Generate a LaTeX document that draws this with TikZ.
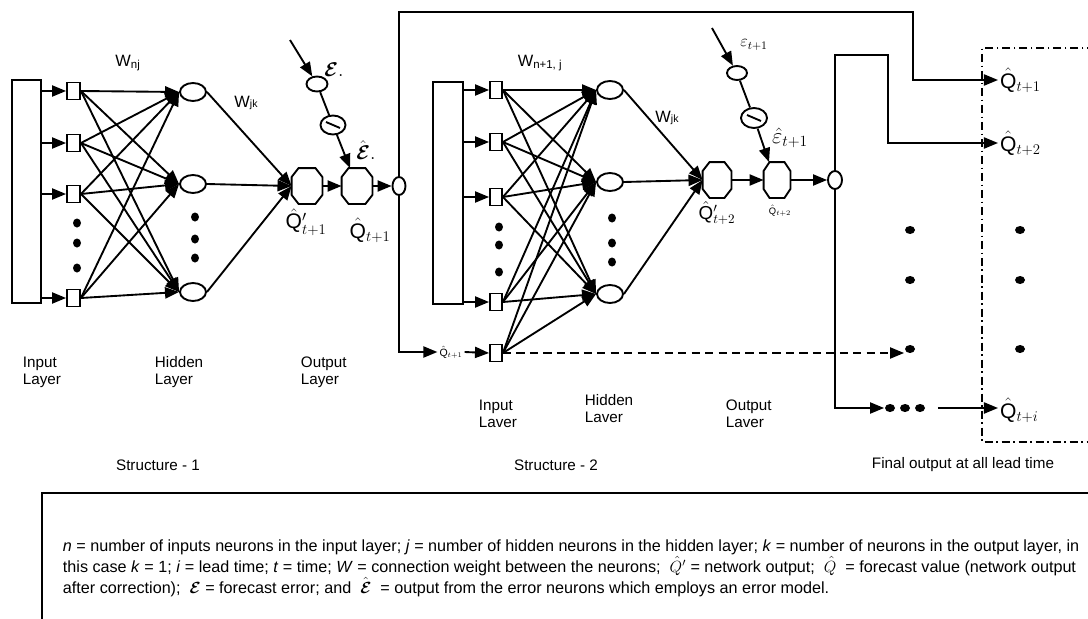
\RequirePackage{fix-cm}
\documentclass[tikz,border=0pt]{standalone}
\usepackage{fontspec}
\setmainfont{Liberation Sans}
\usepackage{amsmath}
\usepackage{bm}
\usetikzlibrary{arrows.meta,shapes.geometric,calc}

% one drawing unit in absolute length
\newcommand{\pu}{0.03cm}
% octagonal output neuron drawn over a named invisible box
\newcommand{\octo}[3]{%
  \draw ($(#1.north west)+(#2,0)$) -- ($(#1.north east)+(-#2,0)$)
     -- ($(#1.north east)+(0,#3)$) -- ($(#1.south east)+(0,-#3)$)
     -- ($(#1.south east)+(-#2,0)$) -- ($(#1.south west)+(#2,0)$)
     -- ($(#1.south west)+(0,-#3)$) -- ($(#1.north west)+(0,#3)$) -- cycle;}
% minus stroke inside an error-model neuron
\newcommand{\minusmark}[1]{\draw ($(#1)+(-7,-3)$) -- ($(#1)+(7,3)$);}
% forecast-error symbol
\newcommand{\ferr}{\bm{\mathcal{E}}}

\begin{document}
\begin{tikzpicture}[x=0.03cm,y=-0.03cm,line width=1.6pt,
  arr/.style={-{Triangle[length=12pt,width=9.5pt]}},
  inbox/.style={draw,rectangle,inner sep=0pt,minimum width=13*\pu,minimum height=17*\pu},
  hid/.style={draw,ellipse,inner sep=0pt,minimum width=26*\pu,minimum height=18*\pu},
  octbox/.style={rectangle,inner sep=0pt,minimum width=#1*\pu,minimum height=34*\pu},
  outn/.style={draw,ellipse,inner sep=0pt,minimum width=13*\pu,minimum height=18*\pu},
  errn/.style={draw,ellipse,inner sep=0pt,minimum width=21*\pu,minimum height=15*\pu},
  minn/.style={draw,ellipse,inner sep=0pt,minimum width=25*\pu,minimum height=19*\pu},
  dotn/.style={fill,ellipse,inner sep=0pt,minimum width=8*\pu,minimum height=9*\pu},
  fdot/.style={fill,ellipse,inner sep=0pt,minimum width=10*\pu,minimum height=8*\pu},
  lay/.style={anchor=north west,align=left,inner sep=0pt,font=\fontsize{13}{14.5}\selectfont},
  captxt/.style={inner sep=0pt,font=\fontsize{13}{15}\selectfont},
  wlab/.style={inner sep=0pt,font=\fontsize{14}{16}\selectfont},
  qbig/.style={inner sep=1pt,font=\fontsize{18}{20}\selectfont},
  leg/.style={anchor=base west,inner sep=0pt,font=\fontsize{13.8}{16}\selectfont}]

\fill[white] (0,0) rectangle (1088,619);
\useasboundingbox (0,0) rectangle (1088,619);
\clip (0,0) rectangle (1088,619);

% ---------------- Structure 1 ----------------
\node[draw,rectangle,inner sep=0pt,minimum width=29*\pu,minimum height=223*\pu] (R1) at (26.5,191.5) {};
\node[inbox] (s11) at (73.5,91) {};
\node[inbox] (s12) at (73.5,143) {};
\node[inbox] (s13) at (73.5,194) {};
\node[inbox] (s14) at (73.5,298) {};
\foreach \k in {1,...,4} \draw[arr] (R1.east |- s1\k) -- (s1\k.west);
\node[dotn] (i1d1) at (77,223) {};
\node[dotn] (i1d2) at (77,243) {};
\node[dotn] (i1d3) at (77,268) {};

\node[hid] (h11) at (193,92) {};
\node[hid] (h12) at (193,184) {};
\node[hid] (h13) at (193,292) {};
\node[dotn] (h1d1) at (195,217) {};
\node[dotn] (h1d2) at (195,239) {};
\node[dotn] (h1d3) at (195,258) {};
\foreach \a in {1,...,4} \foreach \b in {1,2,3} \draw[arr] (s1\a.east) -- (h1\b.west);

\node[octbox=29] (O11) at (307,186) {};
\node[octbox=29] (O12) at (357,186) {};
\octo{O11}{7}{9}
\octo{O12}{7}{9}
\node[outn] (out1) at (399,186) {};
\foreach \b in {1,2,3} \draw[arr] (h1\b.east) -- (O11.west);
\draw[arr] (O11.east) -- (O12.west);
\draw[arr] (O12.east) -- (out1.west);

\node[errn] (E1) at (317,84) {};
\node[minn] (M1) at (333,125) {};
\minusmark{M1}
\coordinate (e1src) at (290,40);
\draw[arr] (e1src) -- (E1);
\draw (E1) -- (M1);
\draw[arr] (M1) -- ($(O12.north)+(-7,0)$);

\node[wlab] (w1a) at (128,63) {W\textsubscript{nj}};
\node[wlab] (w1b) at (246,103) {W{\small jk}};
\node[inner sep=0pt,font=\fontsize{17}{19}\selectfont] (eps1) at (334,70) {$\ferr.$};
\node[inner sep=0pt,font=\fontsize{17}{19}\selectfont] (epsh1) at (366,150) {$\hat{\ferr}.$};
\node[qbig] (q1a) at (306,222) {$\hat{\mathrm{Q}}'_{t+1}$};
\node[qbig] (q1b) at (370,230) {$\hat{\mathrm{Q}}_{t+1}$};

\node[lay] (l11) at (22,356) {Input\\Layer};
\node[lay] (l12) at (154,356) {Hidden\\Layer};
\node[lay] (l13) at (300,356) {Output\\Layer};
\node[captxt] (st1) at (158,465) {Structure - 1};

% ---------------- Structure 2 ----------------
\node[draw,rectangle,inner sep=0pt,minimum width=30*\pu,minimum height=222*\pu] (R2) at (448,193) {};
\node[inbox,minimum width=12*\pu] (s21) at (496,90) {};
\node[inbox,minimum width=12*\pu] (s22) at (496,142) {};
\node[inbox,minimum width=12*\pu] (s23) at (496,197) {};
\node[inbox,minimum width=12*\pu] (s24) at (496,302) {};
\node[inbox,minimum width=12*\pu] (s25) at (496,353) {};
\foreach \k in {1,...,4} \draw[arr] (R2.east |- s2\k) -- (s2\k.west);
\node[dotn] (i2d1) at (499,227) {};
\node[dotn] (i2d2) at (499,245) {};
\node[dotn] (i2d3) at (499,272) {};

\node[hid] (h21) at (610,90) {};
\node[hid] (h22) at (610,182) {};
\node[hid] (h23) at (610,294) {};
\node[dotn] (h2d1) at (612,218) {};
\node[dotn] (h2d2) at (612,243) {};
\node[dotn] (h2d3) at (612,262) {};
\foreach \a in {1,...,5} \foreach \b in {1,2,3} \draw[arr] (s2\a.east) -- (h2\b.west);

\node[octbox=27] (O21) at (717,180) {};
\node[octbox=25] (O22) at (777,180) {};
\octo{O21}{7}{9}
\octo{O22}{6}{9}
\node[outn,minimum width=14*\pu] (out2) at (835,180) {};
\foreach \b in {1,2,3} \draw[arr] (h2\b.east) -- (O21.west);
\draw[arr] (O21.east) -- (O22.west);
\draw[arr] (O22.east) -- (out2.west);

\node[errn,minimum width=20*\pu,minimum height=14*\pu] (E2) at (737,73) {};
\node[minn,minimum width=26*\pu,minimum height=20*\pu] (M2) at (754,118) {};
\minusmark{M2}
\coordinate (e2src) at (712,28);
\draw[arr] (e2src) -- (E2);
\draw (E2) -- (M2);
\draw[arr] (M2) -- ($(O22.north)+(-8,0)$);

\node[wlab] (w2a) at (540,63) {W\textsubscript{n+1, j}};
\node[wlab] (w2b) at (667,118) {W{\small jk}};
\node[inner sep=0pt,font=\fontsize{14}{16}\selectfont] (eps2) at (754,45) {$\varepsilon_{t+1}$};
\node[inner sep=0pt,font=\fontsize{19}{21}\selectfont] (epsh2) at (790,138) {$\hat{\varepsilon}_{t+1}$};
\node[inner sep=0pt,font=\fontsize{16}{18}\selectfont] (q2a) at (717,213) {$\hat{\mathrm{Q}}'_{t+2}$};
\node[inner sep=0pt,font=\fontsize{8}{9}\selectfont] (q2b) at (780,211) {$\hat{\mathrm{Q}}_{t+2}$};

\node[inner sep=1pt,font=\fontsize{9}{10}\selectfont] (qin) at (451,352) {$\hat{\mathrm{Q}}_{t+1}$};
\draw[arr] (out1.south) |- (qin.west);
\draw[arr] (qin.east) -- (s25.west);

\node[lay] (l21) at (478,399) {Input\\Laver};
\node[lay] (l22) at (584,394) {Hidden\\Laver};
\node[lay] (l23) at (725,399) {Output\\Laver};
\node[captxt] (st2) at (556,465) {Structure - 2};

% ---------------- Final outputs ----------------
\draw[dash pattern=on 7pt off 3pt on 1.5pt off 3pt] (1095,48) -- (982,48) -- (982,442) -- (1095,442);

\node[qbig,anchor=west] (F1) at (998,80) {$\hat{\mathrm{Q}}_{t+1}$};
\node[qbig,anchor=west] (F2) at (998,143) {$\hat{\mathrm{Q}}_{t+2}$};
\node[qbig,anchor=west] (Fi) at (998,410) {$\hat{\mathrm{Q}}_{t+i}$};

\coordinate (k1) at (913,12);
\coordinate (k2) at (888,55);
\draw[arr] (out1.north) |- (k1) |- (F1.west);
\draw[arr] (out2.north) |- (k2) |- (F2.west);

\node[fdot] (fa1) at (910,230) {};
\node[fdot] (fa2) at (910,280) {};
\node[fdot] (fa3) at (910,349) {};
\node[fdot] (fb1) at (1020,230) {};
\node[fdot] (fb2) at (1020,280) {};
\node[fdot] (fb3) at (1020,349) {};
\draw[arr,dash pattern=on 7pt off 4.5pt] (s25.east) -- (s25.east -| fa3.west);

\node[fdot] (dA) at (890,408) {};
\node[fdot] (dB) at (905,408) {};
\node[fdot] (dC) at (920,408) {};
\draw[arr] (out2.south) |- (dA.west);
\draw[arr] ($(dC.east)+(12,0)$) -- (dC.east -| Fi.west);

\node[captxt] (st3) at (963,465) {Final output at all lead time};

% ---------------- Legend ----------------
\draw (1095,493) -- (42,493) -- (42,625);
\node[leg] (lg1) at (62,551) {\textit{n} = number of inputs neurons in the input layer; \textit{j} = number of hidden neurons in the hidden layer; \textit{k} = number of neurons in the output layer, in};
\node[leg] (lg2) at (62,572) {this case \textit{k} = 1; \textit{i} = lead time; \textit{t} = time; \textit{W} = connection weight between the neurons;\ \ $\hat{Q}'$ = network output;\ \ $\hat{Q}$\ \ = forecast value (network output};
\node[leg] (lg3) at (62,593) {after correction);\ \ $\ferr$ = forecast error; and\ \ $\hat{\ferr}$\ \ = output from the error neurons which employs an error model.};

\end{tikzpicture}
\end{document}
